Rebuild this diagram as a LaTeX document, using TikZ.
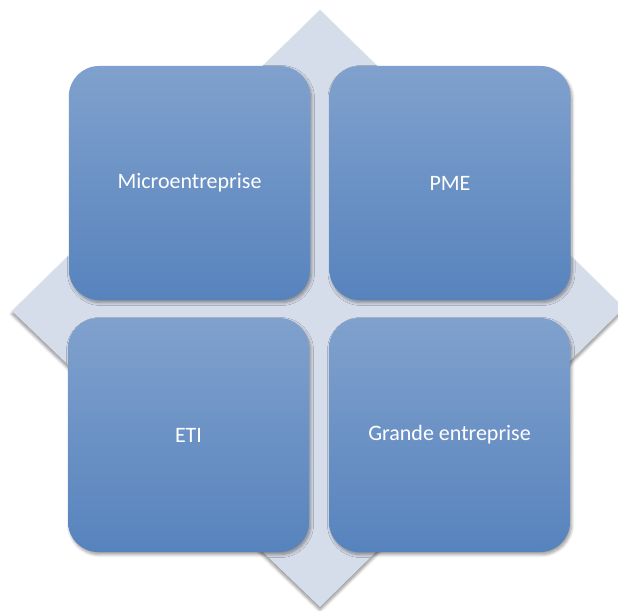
\documentclass[tikz,border=0pt]{standalone}
\usepackage{fontspec}
\setmainfont{Carlito}
\usetikzlibrary{shadows.blur}
\definecolor{diamondfill}{RGB}{213,220,234}
\definecolor{boxtop}{RGB}{128,161,205}
\definecolor{boxbot}{RGB}{87,131,189}
\tikzset{
  quadbox/.style={rounded corners=30pt, minimum width=241pt, minimum height=234pt,
    top color=boxtop, bottom color=boxbot, draw=none, text=white,
    font=\fontsize{22}{26}\selectfont,
    blur shadow={shadow xshift=1.5pt, shadow yshift=-2.5pt, shadow blur steps=6, shadow blur radius=3pt, shadow opacity=40}},
  backdiamond/.style={fill=diamondfill, draw=none,
    blur shadow={shadow xshift=0pt, shadow yshift=-3pt, shadow blur steps=6, shadow blur radius=3pt, shadow opacity=45}}
}
\begin{document}
\begin{tikzpicture}[x=1pt,y=-1pt]
\useasboundingbox (0,0) rectangle (618,610);
\coordinate (dt) at (320,10);
\coordinate (dr) at (624,308);
\coordinate (db) at (320,607);
\coordinate (dl) at (12,311);
\path[backdiamond] (dt) -- (dr) -- (db) -- (dl) -- cycle;
\node[quadbox] (micro) at (189.5,183) {Microentreprise};
\node[quadbox] (pme) at (450,183) {PME};
\node[quadbox] (eti) at (188.5,435) {ETI};
\node[quadbox] (grande) at (449.5,435) {Grande entreprise};
\end{tikzpicture}
\end{document}
